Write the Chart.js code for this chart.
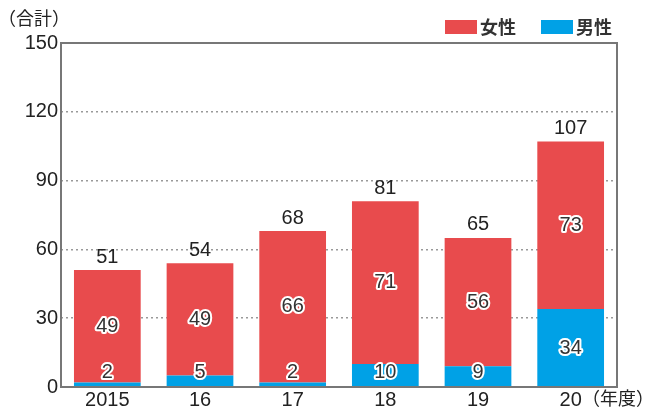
<!DOCTYPE html>
<html>
<head>
<meta charset="utf-8">
<script src="https://cdn.jsdelivr.net/npm/chart.js"></script>
<style>
  html, body { margin: 0; padding: 0; background: #fff; }
  #wrap { width: 654px; height: 410px; }
</style>
</head>
<body>
<div id="wrap"><canvas id="chart" width="654" height="410"></canvas></div>
<script>
// data
const years = ['2015', '16', '17', '18', '19', '20'];
const male = [2, 5, 2, 10, 9, 34];
const female = [49, 49, 66, 71, 56, 73];
const totals = [51, 54, 68, 81, 65, 107];
const yTicks = [0, 30, 60, 90, 120, 150];

const RED = '#E84B4D';
const BLUE = '#00A1E6';
const NUM_FONT = '"Liberation Sans", Arial, sans-serif';
const JP_FONT = '"Noto Sans CJK JP", "Noto Sans", sans-serif';

// labels, frame, legend and captions
const decorations = {
    id: 'decorations',
    afterDatasetsDraw(chart) {
        const ctx = chart.ctx;
        const area = chart.chartArea;
        const yScale = chart.scales.y;
        const xScale = chart.scales.x;

        ctx.save();
        // frame
        ctx.strokeStyle = '#777';
        ctx.lineWidth = 2;
        ctx.strokeRect(area.left, area.top, area.right - area.left, area.bottom - area.top);

        // segment labels (white outlined)
        ctx.font = '20px ' + NUM_FONT;
        ctx.textAlign = 'center';
        ctx.textBaseline = 'middle';
        ctx.lineJoin = 'round';
        years.forEach((y, i) => {
            const x = xScale.getPixelForValue(i);
            const my = yScale.getPixelForValue(Math.max(male[i] / 2, 6.5));
            const fy = yScale.getPixelForValue(male[i] + female[i] / 2);
            [[String(female[i]), fy], [String(male[i]), my]].forEach(([t, py]) => {
                ctx.strokeStyle = '#fff';
                ctx.lineWidth = 4;
                ctx.strokeText(t, x, py);
                ctx.fillStyle = '#333';
                ctx.fillText(t, x, py);
            });
            // totals
            ctx.fillStyle = '#222';
            ctx.fillText(String(totals[i]), x, yScale.getPixelForValue(totals[i]) - 13);
        });

        // captions
        ctx.fillStyle = '#222';
        ctx.textAlign = 'left';
        ctx.font = '18px ' + JP_FONT;
        ctx.fillText('（合計）', -2, 18);
        ctx.fillText('（年度）', 582, 398);

        // legend
        ctx.font = 'bold 18px ' + JP_FONT;
        ctx.fillStyle = RED;
        ctx.fillRect(445, 20, 32, 14);
        ctx.fillStyle = '#333';
        ctx.fillText('女性', 480, 27);
        ctx.fillStyle = BLUE;
        ctx.fillRect(541, 20, 32, 14);
        ctx.fillStyle = '#333';
        ctx.fillText('男性', 576, 27);
        ctx.restore();
    }
};

new Chart(document.getElementById('chart'), {
    type: 'bar',
    data: {
        labels: years,
        datasets: [
            { label: '男性', data: male, backgroundColor: BLUE, barPercentage: 0.72, categoryPercentage: 1 },
            { label: '女性', data: female, backgroundColor: RED, barPercentage: 0.72, categoryPercentage: 1 }
        ]
    },
    options: {
        responsive: false,
        animation: false,
        layout: { padding: { top: 43, right: 37, left: 0, bottom: 0 } },
        plugins: { legend: { display: false }, tooltip: { enabled: false } },
        scales: {
            x: {
                stacked: true,
                grid: { display: false, drawTicks: false },
                border: { display: false },
                ticks: { color: '#222', font: { size: 20, family: NUM_FONT }, padding: 1 },
                afterFit(scale) { scale.height = 23; }
            },
            y: {
                stacked: true,
                min: 0,
                max: 150,
                afterBuildTicks(scale) { scale.ticks = yTicks.map(v => ({ value: v })); },
                grid: {
                    drawTicks: false,
                    color: ctx => (ctx.tick.value === 0 || ctx.tick.value === 150) ? 'rgba(0,0,0,0)' : '#999',
                    lineWidth: 1.5
                },
                border: { display: false, dash: [2, 3] },
                ticks: { color: '#222', font: { size: 20, family: NUM_FONT }, padding: 3 },
                afterFit(scale) { scale.width = 61; }
            }
        }
    },
    plugins: [decorations]
});
</script>
</body>
</html>
